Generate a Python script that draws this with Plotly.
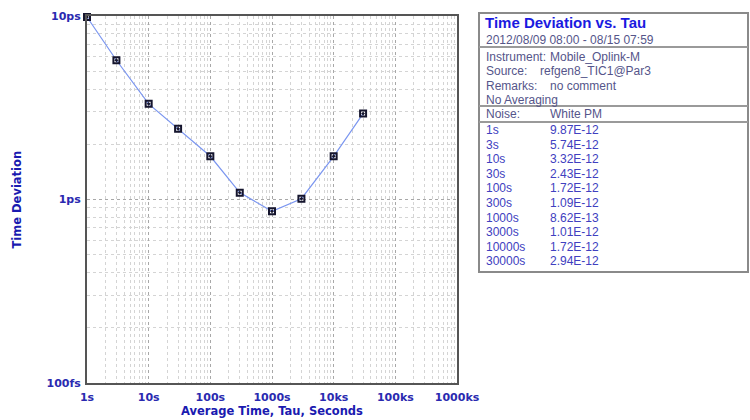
import plotly.graph_objects as go

# ---- data ----
tau_s = [1, 3, 10, 30, 100, 300, 1000, 3000, 10000, 30000]
tau_labels = ["1s", "3s", "10s", "30s", "100s", "300s", "1000s", "3000s", "10000s", "30000s"]
tdev = [9.87e-12, 5.74e-12, 3.32e-12, 2.43e-12, 1.72e-12, 1.09e-12, 8.62e-13, 1.01e-12, 1.72e-12, 2.94e-12]
tdev_labels = ["9.87E-12", "5.74E-12", "3.32E-12", "2.43E-12", "1.72E-12", "1.09E-12",
               "8.62E-13", "1.01E-12", "1.72E-12", "2.94E-12"]
x_tickvals = [1, 10, 100, 1000, 1e4, 1e5, 1e6]
x_ticktext = ["1s", "10s", "100s", "1000s", "10ks", "100ks", "1000ks"]
y_tickvals = [1e-13, 1e-12, 1e-11]
y_ticktext = ["100fs", "1ps", "10ps"]
x_title = "Average Time, Tau, Seconds"
y_title = "Time Deviation"

title = "Time Deviation vs. Tau"
date_range = "2012/08/09 08:00 - 08/15 07:59"
info_rows = [("Instrument:", "Mobile_Oplink-M"), ("Source:", "refgen8_TIC1@Par3"),
             ("Remarks:", "no comment")]
noise_label = ("Noise:", "White PM")

W, H = 750, 420
L, R, T, B = 87, 457, 16, 383

def px(x):
    return (x - L) / (R - L)

def py(y):
    return (B - y) / (B - T)

fig = go.Figure()
fig.add_trace(go.Scatter(
    x=tau_s, y=tdev, mode="lines+markers",
    line=dict(color="#7b96f0", width=1.2),
    marker=dict(symbol="square-open-dot", size=6, color="#15152e", line=dict(width=2, color="#15152e")),
    cliponaxis=False, showlegend=False,
))

tickfont = dict(family="DejaVu Sans", size=11, color="#2a2ab0", weight="bold")
titlefont = dict(family="DejaVu Sans", size=11.5, color="#1a1ab0", weight="bold")
common = dict(
    type="log", tickfont=tickfont, showline=True, linecolor="#555555", linewidth=2,
    mirror=True, showgrid=True, gridcolor="#a8a8a8", griddash="dot", gridwidth=1,
    zeroline=False, automargin=False,
    minor=dict(dtick="D1", showgrid=True, gridcolor="#d4d4d4", griddash="dot", ticks=""),
)
fig.update_xaxes(
    range=[0, 6], tickvals=x_tickvals, ticktext=x_ticktext,
    ticks="outside", ticklen=3, tickcolor="rgba(0,0,0,0)", **common,
)
fig.update_yaxes(
    range=[-13, -11], tickvals=y_tickvals, ticktext=y_ticktext,
    ticks="outside", ticklen=2, tickcolor="rgba(0,0,0,0)", **common,
)

# ---- info table ----
bx0, bx1, by0, by1 = 479, 748, 13, 272
shapes = [dict(type="rect", xref="paper", yref="paper", x0=px(bx0), x1=px(bx1), y0=py(by0), y1=py(by1),
               line=dict(color="#8a8a8a", width=2), fillcolor="rgba(0,0,0,0)")]
for sy in [47, 106, 122]:
    shapes.append(dict(type="line", xref="paper", yref="paper", x0=px(bx0), x1=px(bx1),
                       y0=py(sy), y1=py(sy), line=dict(color="#9a9a9a", width=2)))

ann = []
def text(x, y, s, color, size=12, family="Liberation Sans", weight="normal", xanchor="left", angle=0):
    ann.append(dict(xref="paper", yref="paper", x=px(x), y=py(y), text=s, showarrow=False,
                    xanchor=xanchor, yanchor="middle", textangle=angle,
                    font=dict(family=family, size=size, color=color, weight=weight)))

# axis titles
text((L + R) / 2, 411, x_title, "#1a1ab0", size=11.5, family="DejaVu Sans", weight="bold", xanchor="center")
text(16, (T + B) / 2, y_title, "#1a1ab0", size=11.5, family="DejaVu Sans", weight="bold",
     xanchor="center", angle=-90)

info_c = "#55558a"
data_c = "#4040c0"
text(483, 23, title, "#1a1ae0", size=15, weight="bold")
text(484, 40, date_range, info_c)
row_y = 57
val_x = [548, 538, 548]
for (k, v), vx in zip(info_rows, val_x):
    text(484, row_y, k, info_c)
    text(vx, row_y, v, info_c)
    row_y += 14.3
text(484, 100, "No Averaging", info_c)
text(484, 114, noise_label[0], info_c)
text(548, 114, noise_label[1], info_c)
y0 = 130
for i, (lab, val) in enumerate(zip(tau_labels, tdev_labels)):
    yy = y0 + i * 14.6
    text(484, yy, lab, data_c)
    text(548, yy, val, data_c)

fig.update_layout(
    width=W, height=H, margin=dict(l=L, r=W - R, t=T, b=H - B),
    plot_bgcolor="white", paper_bgcolor="white", shapes=shapes, annotations=ann,
)
fig.write_html("out.html")
